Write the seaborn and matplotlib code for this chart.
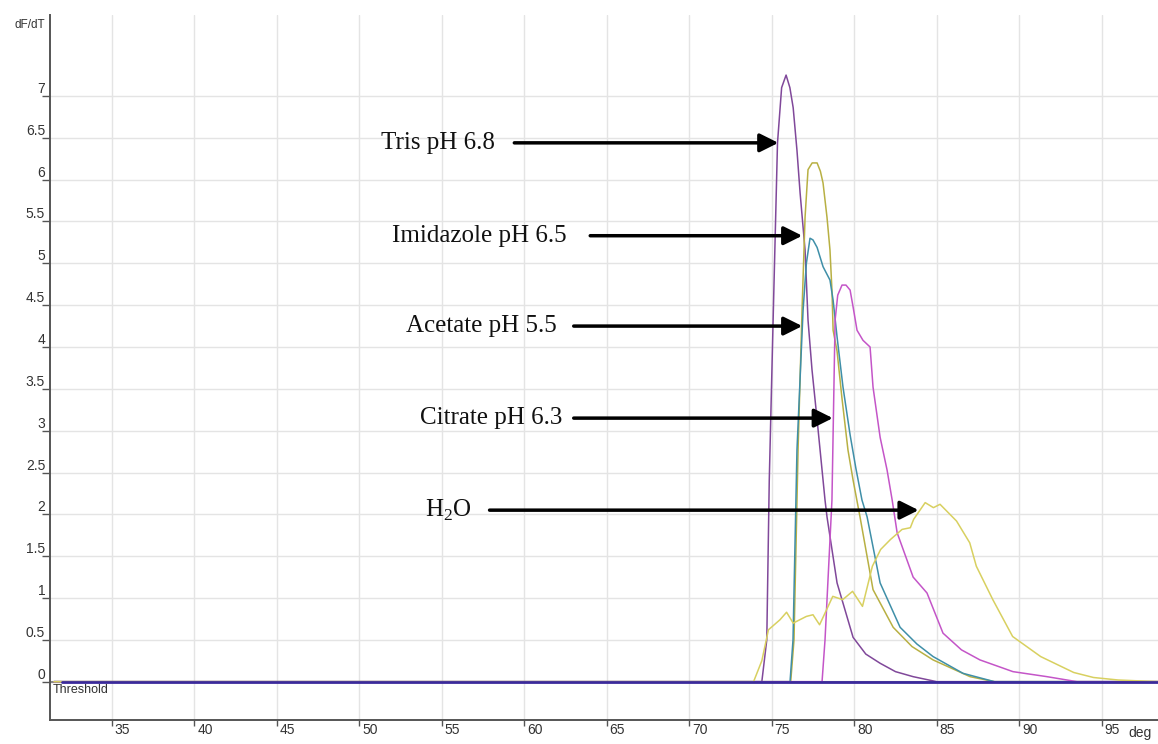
import numpy as np
import pandas as pd
import matplotlib
matplotlib.use('Agg')
import matplotlib.pyplot as plt
from matplotlib.ticker import FormatStrFormatter, MultipleLocator
from matplotlib.transforms import ScaledTranslation
import seaborn as sns

# Courbes de fusion dF/dT
tris_x = [31.5, 74.4, 74.7, 74.85, 75.1, 75.35, 75.6, 75.87, 76.1, 76.3, 76.53, 76.72,
          77.02, 77.2, 77.44, 77.75, 78.05, 78.23, 78.35, 78.96, 79.93, 80.7, 81.57,
          82.5, 83.57, 85.0, 98.4]
tris_y = [0, 0, 0.5, 2.4, 4.45, 6.44, 7.1, 7.25, 7.1, 6.86, 6.35, 5.84,
          5.16, 4.32, 3.73, 3.13, 2.53, 2.17, 1.97, 1.18, 0.53, 0.33, 0.22,
          0.12, 0.06, 0.0, 0]

imid_x = [31.5, 76.15, 76.35, 76.6, 76.84, 77.02, 77.2, 77.45, 77.75, 77.95, 78.11,
          78.35, 78.53, 78.65, 78.72, 78.96, 79.25, 79.62, 79.93, 80.35, 81.14, 82.36,
          83.5, 84.78, 87.02, 88.5, 98.4]
imid_y = [0, 0, 0.5, 2.8, 4.46, 5.55, 6.12, 6.20, 6.20, 6.1, 5.96,
          5.55, 5.16, 4.68, 4.20, 3.95, 3.40, 2.77, 2.41, 1.97, 1.10, 0.65,
          0.42, 0.26, 0.06, 0, 0]

acet_x = [31.5, 76.11, 76.29, 76.53, 76.9, 77.1, 77.32, 77.5, 77.75, 78.11, 78.53,
          78.72, 78.96, 79.32, 79.75, 80.1, 80.47, 80.78, 81.57, 82.78, 83.8, 84.78,
          86.59, 88.5, 98.4]
acet_y = [0, 0, 0.5, 2.77, 4.44, 5.0, 5.30, 5.28, 5.19, 4.96, 4.80,
          4.56, 4.12, 3.52, 2.95, 2.55, 2.17, 1.97, 1.18, 0.65, 0.45, 0.30,
          0.10, 0, 0]

citr_x = [31.5, 78.05, 78.23, 78.65, 78.84, 79.0, 79.26, 79.5, 79.75, 79.93, 80.17,
          80.53, 80.96, 81.14, 81.57, 81.99, 82.30, 82.60, 83.57, 84.41, 85.38, 86.5,
          87.62, 89.62, 91.68, 93.5, 98.4]
citr_y = [0, 0, 0.5, 2.17, 4.32, 4.62, 4.74, 4.74, 4.68, 4.48, 4.20,
          4.08, 4.00, 3.52, 2.92, 2.53, 2.17, 1.78, 1.25, 1.06, 0.58, 0.38,
          0.26, 0.12, 0.06, 0, 0]

h2o_x = [31.5, 73.9, 74.4, 74.8, 75.5, 75.9, 76.3, 77.1, 77.5, 77.9, 78.7, 79.3, 79.9,
         80.5, 81.1, 81.6, 82.2, 82.9, 83.4, 83.6, 84.3, 84.8, 85.2, 86.2, 87.0, 87.4,
         88.4, 89.6, 91.3, 93.3, 94.5, 96.0, 98.4]
h2o_y = [0, 0, 0.25, 0.62, 0.74, 0.83, 0.70, 0.78, 0.80, 0.68, 1.02, 0.98, 1.08,
         0.90, 1.38, 1.58, 1.70, 1.82, 1.84, 1.94, 2.14, 2.08, 2.12, 1.92, 1.66, 1.38,
         0.98, 0.54, 0.30, 0.11, 0.05, 0.02, 0]

base_x = [32.0, 98.4]
base_y = [0, 0]

series = {
    'Tris pH 6.8': (tris_x, tris_y),
    'Imidazole pH 6.5': (imid_x, imid_y),
    'Acetate pH 5.5': (acet_x, acet_y),
    'Citrate pH 6.3': (citr_x, citr_y),
    'H2O': (h2o_x, h2o_y),
}
colors = {
    'Tris pH 6.8': '#80489a',
    'Imidazole pH 6.5': '#b8b043',
    'Acetate pH 5.5': '#3f8fa8',
    'Citrate pH 6.3': '#c455c8',
    'H2O': '#d8d060',
}

# Fleches: (texte, y, x fin du texte, x debut fleche, x pointe)
labels = ['Tris pH 6.8', 'Imidazole pH 6.5', 'Acetate pH 5.5', 'Citrate pH 6.3',
          'H$_{\\mathregular{2}}$O']
label_y = [6.44, 5.33, 4.25, 3.15, 2.05]
text_right = [58.2, 62.6, 62.0, 62.3, 56.8]
arrow_start = [59.4, 64.0, 63.0, 63.0, 57.9]
arrow_tip = [75.4, 76.85, 76.85, 78.7, 83.9]

rows = []
for name, (xs, ys) in series.items():
    for x, y in zip(xs, ys):
        rows.append({'temp': x, 'dfdt': y, 'sample': name})
df = pd.DataFrame(rows)

sns.set_style('white')
plt.rcParams['font.family'] = ['Liberation Sans', 'DejaVu Sans']

fig = plt.figure(figsize=(11.58, 7.44), dpi=100)
ax = fig.add_axes([50 / 1158, 24 / 744, 1108 / 1158, 705 / 744])

sns.lineplot(data=df, x='temp', y='dfdt', hue='sample', palette=colors,
             estimator=None, sort=False, legend=False, linewidth=1.1, ax=ax)

# ligne de base (echantillons plats) + seuil
ax.axhline(0, color='#8a8a8a', linewidth=1.5, zorder=1)
sns.lineplot(x=base_x, y=base_y, color='#3b2a9c', linewidth=2.0, ax=ax, zorder=5)

ax.set_xlim(31.26, 98.41)
ax.set_ylim(-0.458, 7.968)
ax.xaxis.set_major_locator(MultipleLocator(5))
ax.set_yticks(np.arange(0, 7.01, 0.5))
ax.yaxis.set_major_formatter(FormatStrFormatter('%g'))
ax.set_xticks(np.arange(35, 96, 5))
ax.grid(True, color='#e4e4e4', linewidth=1)
ax.set_axisbelow(True)

for side in ['top', 'right']:
    ax.spines[side].set_visible(False)
for side in ['left', 'bottom']:
    ax.spines[side].set_color('#555555')
    ax.spines[side].set_linewidth(1.4)

ax.tick_params(axis='x', bottom=True, length=4.5, width=1, color='#555555', pad=-2.5,
               labelsize=10, labelcolor='#333333', direction='out')
ax.tick_params(axis='y', left=True, length=6, width=1, color='#555555', pad=-2.5,
               labelsize=10, labelcolor='#333333', direction='out')
off = ScaledTranslation(3 / 100, 0, fig.dpi_scale_trans)
for lab in ax.get_xticklabels():
    lab.set_horizontalalignment('left')
    lab.set_transform(lab.get_transform() + off)
for lab in ax.get_yticklabels():
    lab.set_verticalalignment('bottom')

ax.set_xlabel('')
ax.set_ylabel('')

for text, y, xr, xs, xt in zip(labels, label_y, text_right, arrow_start, arrow_tip):
    ax.text(xr, y, text, ha='right', va='center', fontsize=18,
            family=['Liberation Serif', 'DejaVu Serif'], color='#111111')
    ax.annotate('', xy=(xt, y), xytext=(xs, y),
                arrowprops=dict(arrowstyle='-|>', color='black', lw=2.5,
                                mutation_scale=28, shrinkA=0, shrinkB=0))

ax.text(31.4, -0.1, 'Threshold', ha='left', va='center', fontsize=9, color='#333333')
ax.text(96.6, -0.61, 'deg', ha='left', va='center', fontsize=10, color='#333333',
        clip_on=False)
fig.text(15 / 1158, 1 - 25 / 744, 'dF/dT', fontsize=8.5, color='#333333',
         ha='left', va='center')

plt.savefig('out.png', dpi=100)
plt.close()
